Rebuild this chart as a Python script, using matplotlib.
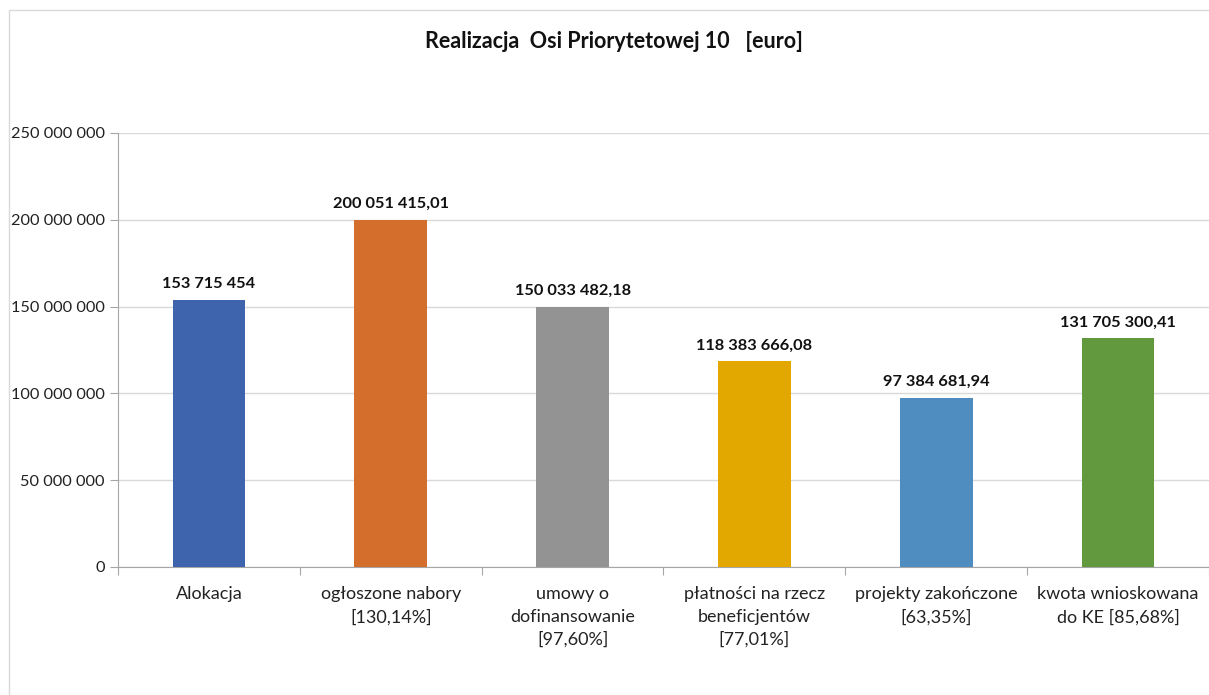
import matplotlib.pyplot as plt
from matplotlib.patches import Rectangle
from matplotlib.ticker import FuncFormatter

# data
categories = ["Alokacja", "ogłoszone nabory\n[130,14%]", "umowy o\ndofinansowanie\n[97,60%]",
              "płatności na rzecz\nbeneficjentów\n[77,01%]", "projekty zakończone\n[63,35%]",
              "kwota wnioskowana\ndo KE [85,68%]"]
values = [153715454, 200051415.01, 150033482.18, 118383666.08, 97384681.94, 131705300.41]
value_labels = ["153 715 454", "200 051 415,01", "150 033 482,18", "118 383 666,08",
                "97 384 681,94", "131 705 300,41"]
colors = ["#3E64AD", "#D46E2C", "#939393", "#E3A800", "#4F8CC0", "#62993E"]
yticks = [0, 50000000, 100000000, 150000000, 200000000, 250000000]

plt.rcParams['font.family'] = ['Lato', 'DejaVu Sans']

fig = plt.figure(figsize=(12.09, 6.95), dpi=100)
# light chart border
fig.patches.append(Rectangle((9 / 1209, -0.1), 1.2, 1 - 10 / 695 + 0.1, transform=fig.transFigure,
                             fill=False, edgecolor="#D9D9D9", linewidth=1))
ax = fig.add_axes([118 / 1209, 1 - 567 / 695, 1 - 118 / 1209, (567 - 133) / 695])

x = range(len(categories))
bars = ax.bar(x, values, width=0.4, color=colors, zorder=3)
for b, lab in zip(bars, value_labels):
    ax.text(b.get_x() + b.get_width() / 2, b.get_height() + 5000000, lab,
            ha="center", va="bottom", fontsize=11.8, fontweight="bold", color="#111111")

ax.set_xlim(-0.5, len(categories) - 0.5)
ax.set_ylim(0, 250000000)
ax.set_yticks(yticks)
ax.yaxis.set_major_formatter(FuncFormatter(lambda v, p: f"{int(v):,}".replace(",", " ")))
ax.set_xticks([i - 0.5 for i in range(len(categories) + 1)], minor=False)
ax.set_xticklabels([])
ax.set_xticks(list(x), minor=True)
ax.set_xticklabels(categories, minor=True, fontsize=13, color="#222222", linespacing=1.5)
ax.tick_params(axis="x", which="minor", length=0, pad=14)
ax.tick_params(axis="x", which="major", length=6, color="#A6A6A6")
ax.tick_params(axis="y", length=6, color="#A6A6A6", labelsize=11.8, labelcolor="#222222")

ax.grid(axis="y", color="#D9D9D9", linewidth=1, zorder=0)
for s in ["top", "right"]:
    ax.spines[s].set_visible(False)
ax.spines["left"].set_color("#A6A6A6")
ax.spines["bottom"].set_color("#A6A6A6")

fig.text(614 / 1209, 1 - 42 / 695, "Realizacja  Osi Priorytetowej 10   [euro]", ha="center", va="center",
         fontsize=15.5, fontweight="bold", color="#111111")

fig.savefig("out.png", dpi=100)
